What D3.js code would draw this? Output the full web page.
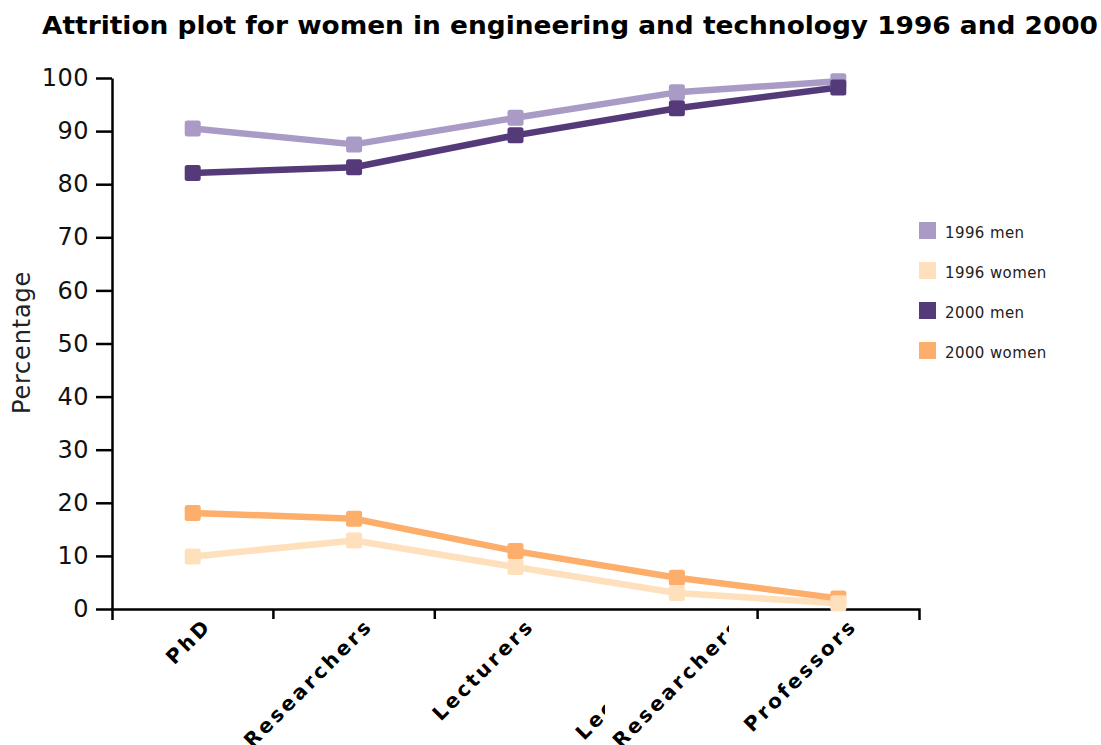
<!DOCTYPE html>
<html>
<head>
<meta charset="utf-8">
<script src="https://cdn.jsdelivr.net/npm/d3@7"></script>
<style>
body { margin: 0; background: #fff; }
</style>
</head>
<body>
<div id="chart"></div>
<script>
const categories = ["PhD", "Researchers", "Lecturers", "Lecturers/Researchers", "Professors"];
const seriesNames = ["1996 men", "1996 women", "2000 men", "2000 women"];
const men1996 = [90.5, 87.5, 92.5, 97.3, 99.4];
const women1996 = [9.9, 12.9, 7.9, 3.0, 1.1];
const men2000 = [82.1, 83.2, 89.2, 94.3, 98.2];
const women2000 = [18.1, 17.0, 10.9, 5.9, 2.0];
const yTicks = [0, 10, 20, 30, 40, 50, 60, 70, 80, 90, 100];
const titleText = "Attrition plot for women in engineering and technology 1996 and 2000";
const colors = ["#a99bc6", "#fee0bd", "#553a79", "#fdae6b"];

const width = 1101, height = 745;
const margin = {top: 78, right: 182, bottom: 136, left: 112};
const innerW = width - margin.left - margin.right;
const innerH = height - margin.top - margin.bottom;

const series = [men1996, women1996, men2000, women2000].map((values, i) => ({
    name: seriesNames[i],
    color: colors[i],
    values: values.map((v, j) => ({cat: categories[j], value: v}))
}));

const svg = d3.select("#chart").append("svg")
    .attr("width", width)
    .attr("height", height);

svg.append("text")
    .attr("x", 42)
    .attr("y", 34)
    .attr("textLength", 1056)
    .attr("lengthAdjust", "spacingAndGlyphs")
    .style("font-family", "'DejaVu Sans Condensed', 'DejaVu Sans', sans-serif")
    .style("font-weight", "bold")
    .style("font-size", "25px")
    .text(titleText);

const g = svg.append("g")
    .attr("transform", `translate(${margin.left},${margin.top})`);

const x = d3.scaleBand().domain(categories).range([0, innerW]).padding(0);
const y = d3.scaleLinear().domain([0, 100]).range([innerH, 0]);

// y axis
const yAxis = g.append("g")
    .call(d3.axisLeft(y).tickValues(yTicks).tickSize(16).tickSizeOuter(0).tickPadding(7));
yAxis.selectAll("path, line").attr("stroke", "#000").attr("stroke-width", 2.5);
yAxis.selectAll("text")
    .style("font-family", "'DejaVu Sans', Verdana, sans-serif")
    .style("font-size", "24px")
    .style("letter-spacing", "0.5px")
    .attr("fill", "#111");

g.append("text")
    .attr("transform", `translate(${-82},${innerH / 2 - 1}) rotate(-90)`)
    .attr("text-anchor", "middle")
    .style("font-family", "'DejaVu Sans', Verdana, sans-serif")
    .style("font-size", "24px")
    .style("letter-spacing", "0.8px")
    .attr("fill", "#222")
    .text("Percentage");

// x axis: ticks on band edges, labels rotated
const xAxis = g.append("g")
    .attr("transform", `translate(0,${innerH})`)
    .call(d3.axisBottom(x).tickSize(0).tickSizeOuter(11).tickFormat(""));
xAxis.selectAll("path").attr("stroke", "#000").attr("stroke-width", 2.5);

const edges = categories.slice(1).map(c => x(c)).filter((e, i) => i !== 2);
xAxis.selectAll(".edge")
    .data(edges)
    .join("line")
    .attr("class", "edge")
    .attr("x1", d => d).attr("x2", d => d)
    .attr("y1", 0).attr("y2", 10)
    .attr("stroke", "#000")
    .attr("stroke-width", 2.5);

const labelStyle = sel => sel
    .style("font-family", "'DejaVu Sans', Verdana, sans-serif")
    .style("font-weight", "bold")
    .style("font-size", "20px")
    .style("letter-spacing", "3px")
    .attr("fill", "#000");

categories.forEach((c, i) => {
    const cx = x(c) + x.bandwidth() / 2;
    if (c.includes("/")) {
        // the two-line label is partly hidden in the original
        const parts = c.split("/");
        const defs = svg.append("defs");
        defs.append("clipPath").attr("id", "clip-a")
            .append("rect").attr("x", cx - 140).attr("y", 0).attr("width", 68).attr("height", 200);
        defs.append("clipPath").attr("id", "clip-b")
            .append("rect").attr("x", cx - 100).attr("y", 12).attr("width", 152).attr("height", 200);
        xAxis.append("g").attr("clip-path", "url(#clip-a)")
            .append("text")
            .attr("transform", `translate(${cx - 93},${132}) rotate(-45)`)
            .attr("text-anchor", "start")
            .call(labelStyle)
            .text(parts[0] + "/");
        xAxis.append("g").attr("clip-path", "url(#clip-b)")
            .append("text")
            .attr("transform", `translate(${cx - 56},${140}) rotate(-45)`)
            .attr("text-anchor", "start")
            .call(labelStyle)
            .text(parts[1]);
    } else {
        xAxis.append("text")
            .attr("transform", `translate(${cx + 20},${18}) rotate(-45)`)
            .attr("text-anchor", "end")
            .call(labelStyle)
            .text(c);
    }
});

// lines
const line = d3.line()
    .x(d => x(d.cat) + x.bandwidth() / 2)
    .y(d => y(d.value));

g.selectAll(".series-line")
    .data(series)
    .join("path")
    .attr("class", "series-line")
    .attr("d", d => line(d.values))
    .attr("fill", "none")
    .attr("stroke", d => d.color)
    .attr("stroke-width", 6.5)
    .attr("stroke-linejoin", "round");

// markers, drawn so the light women series sits on top like the original
const markerOrder = [series[0], series[2], series[3], series[1]];
const ms = 16;
markerOrder.forEach(s => {
    g.selectAll(null)
        .data(s.values)
        .join("rect")
        .attr("x", d => x(d.cat) + x.bandwidth() / 2 - ms / 2)
        .attr("y", d => y(d.value) - ms / 2)
        .attr("width", ms)
        .attr("height", ms)
        .attr("rx", 2.5)
        .attr("fill", s.color);
});

// legend
const legend = svg.append("g").attr("transform", "translate(919,222)");
const item = legend.selectAll("g")
    .data(series)
    .join("g")
    .attr("transform", (d, i) => `translate(0,${i * 40})`);
item.append("rect")
    .attr("width", 17).attr("height", 17)
    .attr("fill", d => d.color);
item.append("text")
    .attr("x", 26)
    .attr("y", 16)
    .style("font-family", "'DejaVu Sans', Verdana, sans-serif")
    .style("font-size", "15px")
    .style("letter-spacing", "0.4px")
    .attr("fill", "#222")
    .text(d => d.name);
</script>
</body>
</html>
